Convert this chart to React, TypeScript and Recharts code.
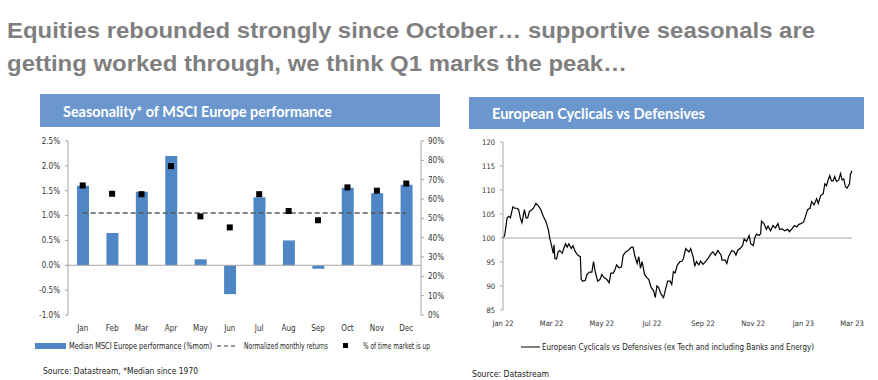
import React from 'react';
import { ComposedChart, LineChart, Bar, Line, XAxis, YAxis, ReferenceLine } from 'recharts';

// Left chart: seasonality of MSCI Europe
const months = ['Jan', 'Feb', 'Mar', 'Apr', 'May', 'Jun', 'Jul', 'Aug', 'Sep', 'Oct', 'Nov', 'Dec'];
const medianReturn = [1.6, 0.65, 1.48, 2.2, 0.12, -0.58, 1.37, 0.5, -0.07, 1.56, 1.45, 1.62]; // %mom
const normalizedReturn = [1.05, 1.05, 1.05, 1.05, 1.05, 1.05, 1.05, 1.05, 1.05, 1.05, 1.05, 1.05];
const pctUp = [67, 62.7, 62.5, 77, 51, 45.3, 62.5, 53.8, 49, 66, 64.3, 68]; // % of time market is up
const leftTicks = [-1, -0.5, 0, 0.5, 1, 1.5, 2, 2.5];
const rightTicks = [0, 10, 20, 30, 40, 50, 60, 70, 80, 90];

// Right chart: European cyclicals vs defensives (days since 1 Jan 2022)
const cycDay = [
    0, 2, 5, 7, 9, 12, 14, 17, 19, 21, 23, 26, 28, 30, 32, 35, 37, 40, 43, 46,
    49, 52, 55, 57, 59, 61, 62, 63, 65, 67, 69, 72, 73, 76, 78, 80, 83, 85, 88, 91,
    94, 95, 97, 100, 102, 105, 108, 110, 112, 115, 118, 120, 123, 126, 129, 131, 134, 136, 138, 141,
    144, 146, 149, 152, 156, 158, 160, 163, 165, 167, 169, 172, 175, 177, 180, 183, 185, 187, 189, 192,
    195, 197, 200, 203, 205, 207, 209, 212, 215, 217, 219, 222, 224, 226, 228, 231, 233, 235, 238, 240,
    243, 246, 249, 253, 255, 258, 261, 265, 266, 270, 272, 274, 278, 281, 283, 285, 288, 291, 293, 296,
    299, 301, 304, 306, 308, 311, 313, 314, 317, 320, 322, 325, 328, 331, 334, 336, 339, 342, 346, 348,
    351, 354, 357, 359, 362, 365, 367, 370, 373, 375, 378, 381, 383, 386, 389, 391, 393, 395, 397, 399,
    401, 403, 405, 408, 410, 412, 414, 416, 418, 421, 422, 424,
];
const cycValue = [
    100.0, 100.5, 104.2, 104.5, 104.2, 106.5, 106.2, 106.2, 105.9, 104.2, 103.2, 105.9, 104.2, 104.2, 105.5, 105.9, 106.2, 107.2, 106.7, 105.9,
    104.5, 103.5, 101.8, 99.8, 98.4, 96.8, 98.6, 95.7, 95.6, 97.1, 97.4, 96.8, 97.4, 98.8, 98.1, 98.8, 97.8, 98.4, 97.1, 96.4,
    96.1, 91.4, 91.0, 91.2, 92.4, 92.9, 92.9, 95.1, 93.0, 91.0, 91.4, 92.4, 91.7, 91.4, 90.7, 92.7, 92.7, 93.4, 94.4, 93.8,
    94.0, 96.4, 97.1, 97.4, 98.1, 98.1, 96.4, 94.7, 96.1, 93.7, 95.1, 92.4, 91.7, 91.4, 89.7, 89.0, 87.6, 90.0, 89.7, 88.3,
    87.6, 89.0, 91.0, 91.0, 90.3, 93.0, 92.7, 94.4, 95.1, 95.1, 95.6, 97.8, 97.4, 97.1, 97.8, 96.1, 94.1, 95.1, 94.4, 95.2,
    94.5, 95.1, 95.7, 96.8, 97.1, 96.4, 97.4, 96.4, 95.4, 95.4, 94.7, 96.1, 97.4, 97.1, 96.4, 97.4, 97.8, 98.4, 99.8, 99.3,
    100.5, 98.8, 98.4, 100.1, 100.8, 100.5, 100.9, 103.5, 103.0, 101.8, 102.5, 101.5, 102.6, 102.1, 103.0, 101.8, 101.9, 101.5, 101.8, 101.3,
    101.9, 102.6, 102.3, 102.8, 103.0, 103.3, 104.2, 105.9, 106.2, 107.6, 106.9, 108.2, 107.2, 108.9, 109.2, 111.3, 110.9, 112.1, 113.0, 111.9,
    111.9, 112.8, 111.8, 112.1, 113.4, 112.1, 112.3, 110.7, 110.4, 111.3, 113.2, 114.0,
];
const dateTicks = [0, 59, 120, 181, 243, 304, 365, 424];
const dateTickLabels = ['Jan 22', 'Mar 22', 'May 22', 'Jul 22', 'Sep 22', 'Nov 22', 'Jan 23', 'Mar 23'];
const cycTicks = [85, 90, 95, 100, 105, 110, 115, 120];

const seasonData = months.map((m, i) => ({
    month: m,
    median: medianReturn[i],
    normalized: normalizedReturn[i],
    up: pctUp[i],
}));
const cycData = cycDay.map((d, i) => ({ day: d, value: cycValue[i] }));

const NARROW = "'Liberation Sans Narrow', 'Arial Narrow', 'DejaVu Sans Condensed', Arial, sans-serif";
const BAR_BLUE = '#4F86C6';
const HEADER_BLUE = '#6B97CE';
const AXIS_GREY = '#A6A6A6';
const tickStyle = { fontSize: 8, fill: '#333', fontFamily: NARROW };

const SquareDot = (props: any) => {
    const { cx, cy, index } = props;
    if (cx == null || cy == null) return <g key={index} />;
    return <rect key={index} x={cx - 3} y={cy - 3} width={6} height={6} fill="#000" />;
};

export default function App() {
    return (
        <div style={{ position: 'absolute', left: 0, top: 0, width: 878, height: 380, background: '#fff' }}>
            <svg width={878} height={380} style={{ position: 'absolute', left: 0, top: 0 }}>
                {/* page title */}
                <g fill="#7F7F7F" fontFamily="'Liberation Sans', Arial, sans-serif" fontWeight="bold" fontSize={22}>
                    <text x={7} y={38} textLength={808} lengthAdjust="spacingAndGlyphs">
                        Equities rebounded strongly since October… supportive seasonals are
                    </text>
                    <text x={7} y={71} textLength={620} lengthAdjust="spacingAndGlyphs">
                        getting worked through, we think Q1 marks the peak…
                    </text>
                </g>

                {/* chart headers */}
                <rect x={40} y={94} width={400} height={33} fill={HEADER_BLUE} />
                <text x={63} y={117} fill="#fff" fontFamily="Lato, 'Open Sans', sans-serif" fontWeight="bold" fontSize={15}
                    textLength={269} lengthAdjust="spacingAndGlyphs">
                    Seasonality* of MSCI Europe performance
                </text>
                <rect x={469} y={97} width={395} height={32} fill={HEADER_BLUE} />
                <text x={492} y={118.5} fill="#fff" fontFamily="Lato, 'Open Sans', sans-serif" fontWeight="bold" fontSize={15}
                    textLength={213} lengthAdjust="spacingAndGlyphs">
                    European Cyclicals vs Defensives
                </text>

                {/* left legend */}
                <g fontFamily={NARROW} fontSize={8} fill="#222">
                    <rect x={35} y={343} width={31} height={6} fill={BAR_BLUE} />
                    <text x={69} y={349} textLength={143} lengthAdjust="spacingAndGlyphs">Median MSCI Europe performance (%mom)</text>
                    <line x1={217} x2={237} y1={346} y2={346} stroke="#333" strokeWidth={1.2} strokeDasharray="4 3" />
                    <text x={244} y={349} textLength={84} lengthAdjust="spacingAndGlyphs">Normalized monthly returns</text>
                    <rect x={343} y={343} width={5} height={5} fill="#000" />
                    <text x={363} y={349} textLength={67} lengthAdjust="spacingAndGlyphs">% of time market is up</text>
                </g>

                {/* right legend */}
                <g fontFamily={NARROW} fontSize={9} fill="#222">
                    <line x1={521} x2={540} y1={347} y2={347} stroke="#000" strokeWidth={1} />
                    <text x={542} y={350} textLength={272} lengthAdjust="spacingAndGlyphs">
                        European Cyclicals vs Defensives (ex Tech and including Banks and Energy)
                    </text>
                </g>

                {/* sources */}
                <g fontFamily="'DejaVu Sans Condensed', 'DejaVu Sans', sans-serif" fontSize={9} fill="#222">
                    <text x={43} y={374} textLength={155} lengthAdjust="spacingAndGlyphs">Source: Datastream, *Median since 1970</text>
                    <text x={472} y={377} textLength={77} lengthAdjust="spacingAndGlyphs">Source: Datastream</text>
                </g>
            </svg>

            {/* Seasonality chart */}
            <div style={{ position: 'absolute', left: 0, top: 130 }}>
                <ComposedChart
                    width={447}
                    height={215}
                    data={seasonData}
                    margin={{ top: 11, right: 0, left: 8, bottom: 0 }}
                >
                    <XAxis
                        dataKey="month"
                        tick={tickStyle}
                        tickLine={false}
                        axisLine={false}
                        tickMargin={4}
                        interval={0}
                    />
                    <YAxis
                        yAxisId="left"
                        width={60}
                        domain={[-1, 2.5]}
                        ticks={leftTicks}
                        tickFormatter={(v: number) => `${v.toFixed(1)}%`}
                        tick={tickStyle}
                        tickSize={3}
                        tickMargin={5}
                        stroke={AXIS_GREY}
                        interval={0}
                    />
                    <YAxis
                        yAxisId="right"
                        orientation="right"
                        width={26}
                        domain={[0, 90]}
                        ticks={rightTicks}
                        tickFormatter={(v: number) => `${v}%`}
                        tick={tickStyle}
                        tickSize={3}
                        tickMargin={4}
                        stroke={AXIS_GREY}
                        interval={0}
                    />
                    <ReferenceLine yAxisId="left" y={0} stroke={AXIS_GREY} />
                    <Bar yAxisId="left" dataKey="median" fill={BAR_BLUE} barSize={12} isAnimationActive={false} />
                    <Line
                        yAxisId="left"
                        type="linear"
                        dataKey="normalized"
                        stroke="#595959"
                        strokeWidth={1.5}
                        strokeDasharray="5 3"
                        dot={false}
                        isAnimationActive={false}
                    />
                    <Line
                        yAxisId="right"
                        dataKey="up"
                        stroke="none"
                        dot={SquareDot}
                        activeDot={false}
                        isAnimationActive={false}
                    />
                </ComposedChart>
            </div>

            {/* Cyclicals vs defensives chart */}
            <div style={{ position: 'absolute', left: 460, top: 130 }}>
                <LineChart
                    width={418}
                    height={210}
                    data={cycData}
                    margin={{ top: 12, right: 26, left: 6, bottom: 0 }}
                >
                    <XAxis
                        dataKey="day"
                        type="number"
                        domain={[0, 424]}
                        ticks={dateTicks}
                        tickFormatter={(v: number) => dateTickLabels[dateTicks.indexOf(v)] ?? ''}
                        tick={{ ...tickStyle, fontSize: 7.5 }}
                        tickLine={false}
                        axisLine={false}
                        tickMargin={5}
                        interval={0}
                    />
                    <YAxis
                        width={37}
                        domain={[85, 120]}
                        ticks={cycTicks}
                        tick={{ ...tickStyle, fontSize: 7.5 }}
                        tickSize={3}
                        tickMargin={5}
                        stroke={AXIS_GREY}
                        interval={0}
                    />
                    <ReferenceLine y={100} stroke={AXIS_GREY} />
                    <Line
                        type="linear"
                        dataKey="value"
                        stroke="#000"
                        strokeWidth={1.2}
                        dot={false}
                        isAnimationActive={false}
                    />
                </LineChart>
            </div>
        </div>
    );
}
